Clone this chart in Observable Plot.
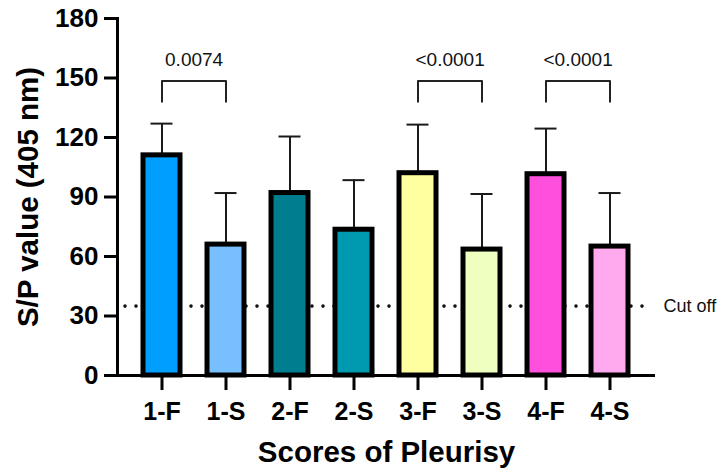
<!DOCTYPE html>
<html><head><meta charset="utf-8">
<script src="https://cdn.jsdelivr.net/npm/d3@7"></script>
<script src="https://cdn.jsdelivr.net/npm/@observablehq/plot@0.6"></script>
<style>html,body{margin:0;padding:0;background:#fff}svg{display:block}</style>
</head><body><div id="chart"></div>
<script>
// ---- data ----
const groups = ["1-F","1-S","2-F","2-S","3-F","3-S","4-F","4-S"];
const means = [111, 66, 92, 73.5, 102, 63.5, 101.5, 65];
const errorTops = [127, 92, 120.5, 98.5, 126.5, 91.5, 124.5, 92];
const colors = ["#009FFF","#77BFFF","#007D8F","#009AB0","#FFFF9F","#EEFFC0","#FF4FDD","#FFAAEE"];
const yTicks = [0, 30, 60, 90, 120, 150, 180];
const cutoff = 35;
const cutoffLabel = "Cut off";
const pairA = ["1-F","3-F","4-F"];
const pairB = ["1-S","3-S","4-S"];
const pValues = ["0.0074","<0.0001","<0.0001"];
const bracketLow = 138, bracketHigh = 148.5, labelLevel = 159;
const yTitle = "S/P value (405 nm)";
const xTitle = "Scores of Pleurisy";

// ---- tables ----
const bars = groups.map((g, i) => ({group: g, mean: means[i], top: errorTops[i], color: colors[i]}));
const comps = pValues.map((p, i) => ({a: pairA[i], b: pairB[i], label: p}));
const bracketPts = comps.flatMap((c, k) => [
  {k, x: c.a, y: bracketLow}, {k, x: c.a, y: bracketHigh},
  {k, x: c.b, y: bracketHigh}, {k, x: c.b, y: bracketLow}
]);

// ---- layout ----
const W = 721, H = 470, ML = 117, MR = 66, MT = 18, MB = 95;
const pI = 0.42, pO = 0.4;
const step = (W - ML - MR) / (groups.length - pI + 2 * pO);
const font = "'Liberation Sans', Arial, Helvetica, sans-serif";

const chart = Plot.plot({
  width: W, height: H,
  marginLeft: ML, marginRight: MR, marginTop: MT, marginBottom: MB,
  style: {fontFamily: font, background: "white", color: "black", overflow: "visible"},
  x: {domain: groups, paddingInner: pI, paddingOuter: pO, axis: null},
  y: {domain: [0, 180], axis: null},
  color: {type: "identity"},
  marks: [
    Plot.ruleY([cutoff], {stroke: "#111", strokeWidth: 3.6, strokeDasharray: "0,11", strokeLinecap: "round", insetLeft: 8, insetRight: 10}),
    Plot.ruleX(bars, {x: "group", y1: "mean", y2: "top", stroke: "#1a1a1a", strokeWidth: 2}),
    Plot.tickY(bars, {x: "group", y: "top", stroke: "#1a1a1a", strokeWidth: 2, inset: 7.5}),
    Plot.barY(bars, {x: "group", y: "mean", fill: "color", stroke: "black", strokeWidth: 5}),
    Plot.line(bracketPts, {x: "x", y: "y", z: "k", stroke: "#222", strokeWidth: 2}),
    Plot.text(comps, {x: "a", y: () => labelLevel, text: "label", dx: step / 2, fontSize: 19, fontWeight: "normal", fill: "#111"}),
    Plot.axisY({ticks: yTicks, tickSize: 13, tickPadding: 6, strokeWidth: 3, fontSize: 26, fontWeight: "bold", label: null}),
    Plot.axisX({tickSize: 15, tickPadding: 12, strokeWidth: 3, fontSize: 25, fontWeight: "bold", label: null}),
    Plot.ruleY([0], {stroke: "black", strokeWidth: 3}),
    Plot.frame({anchor: "left", stroke: "black", strokeWidth: 3}),
    Plot.text([cutoff], {y: d => d, text: () => cutoffLabel, frameAnchor: "right", textAnchor: "start", dx: 8, fontSize: 18, fontWeight: "normal", fill: "#111"}),
    Plot.text([yTitle], {text: d => d, frameAnchor: "left", textAnchor: "middle", lineAnchor: "middle", rotate: -90, dx: -89, fontSize: 29.5, fontWeight: "bold"}),
    Plot.text([xTitle], {text: d => d, frameAnchor: "bottom", textAnchor: "middle", lineAnchor: "middle", dy: 77, fontSize: 29.5, fontWeight: "bold"})
  ]
});
document.getElementById("chart").appendChild(chart);
</script>
</body></html>
